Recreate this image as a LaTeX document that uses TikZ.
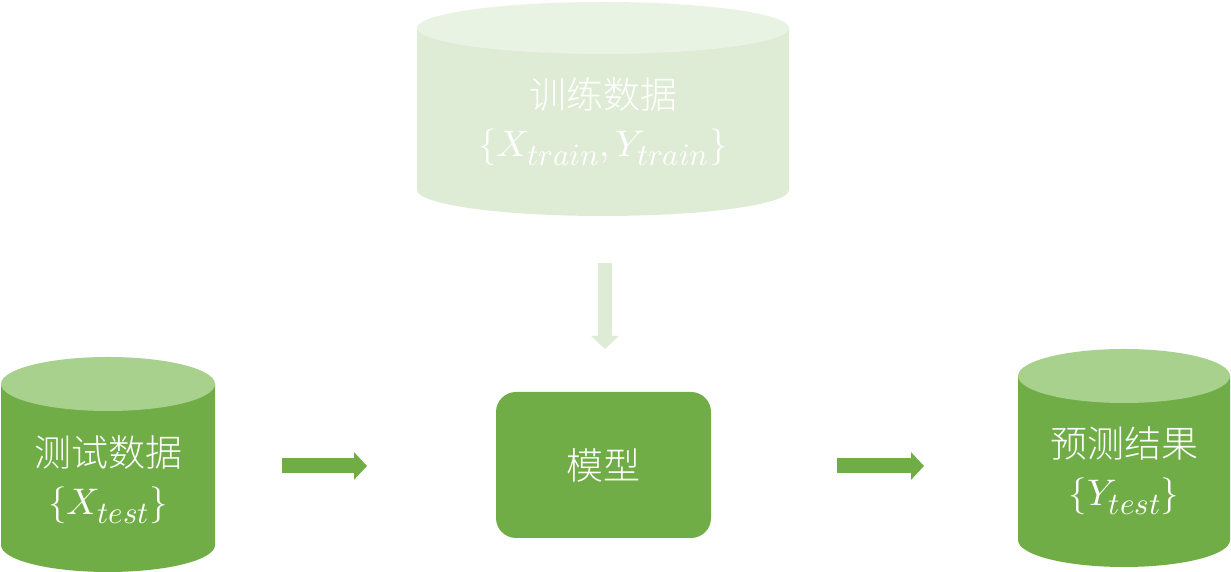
\documentclass[tikz,border=0pt]{standalone}
\usepackage{fontspec}
\usepackage{unicode-math}
\newfontfamily\cjk{Noto Sans CJK SC Light}
\DeclareMathSizes{37}{37}{31}{25}
\usetikzlibrary{arrows.meta}
\definecolor{dgreen}{HTML}{70AD47}
\definecolor{lgreen}{HTML}{A9D18E}
\definecolor{fbody}{HTML}{DEEBD5}
\definecolor{ftop}{HTML}{E9F3E3}
\tikzset{
  lbl/.style={text=white, align=center, font=\cjk\fontsize{37}{48}\selectfont, inner sep=0pt},
  fatarrow/.style={line width=15pt, -{Triangle[length=13pt,width=27pt]}},
}
\begin{document}
\begin{tikzpicture}[x=1pt,y=1pt]
\useasboundingbox (0,0) rectangle (1231,572);
% training cylinder (faded)
\fill[fbody] (417,544) -- (417,382) arc[start angle=180,end angle=360,x radius=186,y radius=26] -- (789,544) -- cycle;
\fill[ftop] (603,544) ellipse[x radius=186,y radius=26];
\node[lbl] (train) at (603,450) {训练数据\\$\{X_{train},Y_{train}\}$};
% test cylinder
\fill[dgreen] (1,188) -- (1,27) arc[start angle=180,end angle=360,x radius=107,y radius=27] -- (215,188) -- cycle;
\fill[lgreen] (108,188) ellipse[x radius=107,y radius=27];
\node[lbl] (test) at (108,92) {测试数据\\$\{X_{test}\}$};
% result cylinder
\fill[dgreen] (1018,196) -- (1018,32) arc[start angle=180,end angle=360,x radius=106,y radius=27] -- (1230,196) -- cycle;
\fill[lgreen] (1124,196) ellipse[x radius=106,y radius=27];
\node[lbl] (res) at (1124,101) {预测结果\\$\{Y_{test}\}$};
% model
\node[fill=dgreen, rounded corners=20pt, minimum width=215pt, minimum height=146pt, inner sep=0pt, text=white, font=\cjk\fontsize{37}{48}\selectfont] (model) at (603.5,107) {模型};
% arrows
\coordinate (a1s) at (282,106);
\coordinate (a1e) at (367,106);
\coordinate (a2s) at (837,106);
\coordinate (a2e) at (924,106);
\coordinate (a3s) at (605,309);
\coordinate (a3e) at (605,223);
\draw[fatarrow, dgreen] (a1s) -- (a1e);
\draw[fatarrow, dgreen] (a2s) -- (a2e);
\draw[fatarrow, fbody, line width=14pt] (a3s) -- (a3e);
\end{tikzpicture}
\end{document}
